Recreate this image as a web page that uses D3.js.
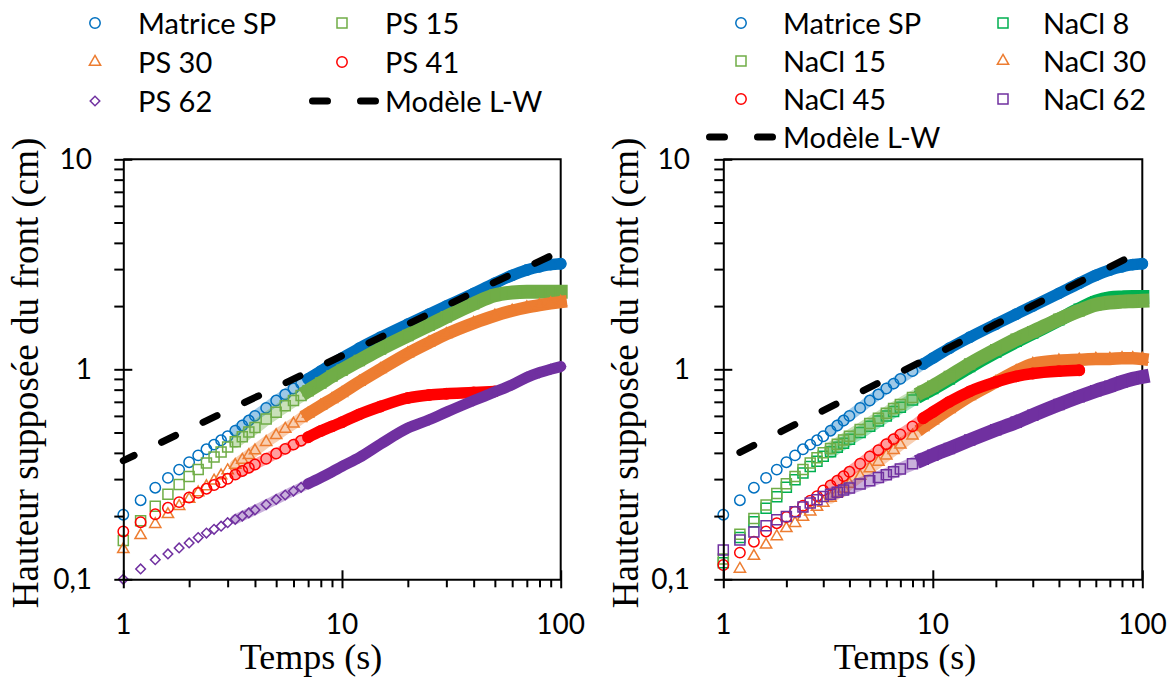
<!DOCTYPE html>
<html><head><meta charset="utf-8">
<script src="https://cdn.jsdelivr.net/npm/d3@7"></script>
<style>
body{margin:0;background:#fff;}
svg{display:block;}
</style></head><body>
<svg id="chart" width="1171" height="680"></svg>
<script>
// ---- Data ----
const times = [1,1.2,1.4,1.6,1.8,2,2.2,2.4,2.6,2.8,3,3.25,3.5,3.75,4,4.5,5,5.5,6,6.5,7,8,9,10,12,15,20,25,30,40,50,60,70,80,90,100];

// Matrice SP (same in both panels)
const matriceSP = [0.203,0.238,0.273,0.304,0.333,0.361,0.389,0.416,0.438,0.459,0.48,0.51,0.54,0.57,0.60,0.655,0.71,0.76,0.81,0.855,0.90,0.98,1.06,1.13,1.26,1.42,1.64,1.83,2.0,2.3,2.57,2.8,2.97,3.08,3.15,3.18];

// Left panel
const ps15 = [0.153,0.19,0.223,0.254,0.283,0.309,0.333,0.358,0.382,0.404,0.427,0.452,0.477,0.503,0.528,0.58,0.625,0.67,0.71,0.75,0.79,0.86,0.93,0.99,1.1,1.25,1.45,1.62,1.78,2.05,2.25,2.32,2.34,2.34,2.34,2.34];
const ps30 = [0.139,0.162,0.183,0.204,0.223,0.241,0.259,0.277,0.295,0.312,0.33,0.35,0.37,0.39,0.41,0.45,0.485,0.52,0.55,0.585,0.615,0.67,0.72,0.77,0.87,1.0,1.19,1.34,1.47,1.66,1.8,1.9,1.97,2.02,2.06,2.09];
const ps41 = [0.169,0.187,0.204,0.219,0.233,0.245,0.258,0.27,0.281,0.29,0.301,0.315,0.328,0.34,0.352,0.375,0.397,0.418,0.438,0.457,0.475,0.508,0.535,0.56,0.61,0.665,0.73,0.755,0.765,0.775,0.785,null,null,null,null,null];
const ps62 = [0.1,0.112,0.124,0.132,0.141,0.149,0.158,0.166,0.173,0.179,0.186,0.193,0.2,0.207,0.214,0.227,0.24,0.252,0.263,0.274,0.285,0.305,0.325,0.345,0.38,0.44,0.525,0.575,0.625,0.71,0.78,0.845,0.915,0.965,1.0,1.03];

// Right panel
const nacl8  = [0.12,0.158,0.188,0.218,0.247,0.274,0.298,0.321,0.344,0.365,0.385,0.405,0.425,0.445,0.465,0.5,0.535,0.567,0.6,0.63,0.66,0.715,0.765,0.81,0.9,1.03,1.21,1.36,1.49,1.72,1.93,2.1,2.18,2.2,2.21,2.21];
const nacl15 = [0.125,0.164,0.195,0.226,0.256,0.285,0.309,0.333,0.358,0.379,0.4,0.42,0.44,0.46,0.48,0.517,0.552,0.585,0.618,0.65,0.68,0.735,0.785,0.83,0.925,1.06,1.24,1.39,1.51,1.73,1.9,2.03,2.08,2.1,2.11,2.12];
const nacl30 = [null,0.112,0.129,0.146,0.16,0.175,0.185,0.198,0.21,0.221,0.231,0.244,0.257,0.27,0.284,0.31,0.337,0.362,0.388,0.412,0.437,0.483,0.53,0.57,0.645,0.745,0.87,0.98,1.06,1.1,1.11,1.12,1.12,1.13,1.13,1.12];
const nacl45 = [0.117,0.134,0.151,0.169,0.185,0.198,0.21,0.224,0.237,0.249,0.265,0.28,0.295,0.31,0.325,0.355,0.385,0.412,0.44,0.465,0.49,0.535,0.585,0.625,0.7,0.785,0.87,0.925,0.955,0.98,0.99,null,null,null,null,null];
const nacl62 = [0.138,0.154,0.168,0.18,0.192,0.199,0.21,0.221,0.231,0.239,0.248,0.254,0.26,0.266,0.272,0.284,0.295,0.305,0.315,0.325,0.335,0.355,0.373,0.39,0.42,0.46,0.515,0.56,0.605,0.68,0.74,0.79,0.83,0.87,0.9,0.92];

// Modele L-W
const lwLeftT  = [1,2,5,10,20,50,100];
const lwLeftV  = [0.367,0.52,0.82,1.16,1.64,2.6,3.65];
const lwRightT = [1.2,2,5,10,20,50,100];
const lwRightV = [0.402,0.52,0.82,1.16,1.64,2.6,3.67];

const xTickVals = [1,10,100];
const xTickLabels = ["1","10","100"];
const yTickVals = [0.1,1,10];
const yTickLabels = ["0,1","1","10"];

const leftNames  = ["Matrice SP","PS 15","PS 30","PS 41","PS 62"];
const rightNames = ["Matrice SP","NaCl 8","NaCl 15","NaCl 30","NaCl 45","NaCl 62"];
const lwName = "Modèle L-W";
const xTitle = "Temps (s)";
const yTitle = "Hauteur supposée du front (cm)";

// ---- Styles ----
const C = {blue:"#0070C0", lgreen:"#70AD47", dgreen:"#00B050", orange:"#ED7D31", red:"#FF0000", purple:"#7030A0"};
const SH = {
  circle:  {sym:d3.symbolCircle,  size:85, rot:false, bandW:11.5, cap:"round"},
  square:  {sym:d3.symbolSquare,  size:100, rot:false, bandW:14, cap:"square"},
  triangle:{sym:d3.symbolTriangle,size:55, rot:false, bandW:12.5, cap:"square"},
  diamond: {sym:d3.symbolSquare,  size:46, rot:true,  bandW:11, cap:"round"}
};

const leftSeries = [
  {name:leftNames[0], values:matriceSP, color:C.blue,   shape:"circle"},
  {name:leftNames[1], values:ps15,      color:C.lgreen, shape:"square"},
  {name:leftNames[2], values:ps30,      color:C.orange, shape:"triangle"},
  {name:leftNames[3], values:ps41,      color:C.red,    shape:"circle"},
  {name:leftNames[4], values:ps62,      color:C.purple, shape:"diamond"}
];
const rightSeries = [
  {name:rightNames[0], values:matriceSP, color:C.blue,   shape:"circle"},
  {name:rightNames[1], values:nacl8,     color:C.dgreen, shape:"square"},
  {name:rightNames[2], values:nacl15,    color:C.lgreen, shape:"square"},
  {name:rightNames[3], values:nacl30,    color:C.orange, shape:"triangle"},
  {name:rightNames[4], values:nacl45,    color:C.red,    shape:"circle"},
  {name:rightNames[5], values:nacl62,    color:C.purple, shape:"square"}
];

const yTop = 159.3, yBot = 579.3;
const tickFont = "Lato, 'Open Sans', sans-serif";
const titleFont = "'Liberation Serif', 'Times New Roman', serif";

const panels = [
  {x0:123.3, x1:560.7, series:leftSeries, lwT:lwLeftT, lwV:lwLeftV, lwOffset:3.5, haloStart:3.25, bandStart:7,
   yTitleX:38, xTitleX:311, yLabelRight:92,
   legend:{mx:[95,342], tx:[138,385], ry:[23,62,101],
     items:[[0,0,0],[1,0,1],[2,1,0],[3,1,1],[4,2,0]], lw:[2,1], lwX:[309,379]}},
  {x0:723.3, x1:1142.3, series:rightSeries, lwT:lwRightT, lwV:lwRightV, lwOffset:0, haloStart:3.25, bandStart:9,
   yTitleX:638, xTitleX:905, yLabelRight:690,
   legend:{mx:[741,1003], tx:[783,1043], ry:[23,61,99,137],
     items:[[0,0,0],[1,0,1],[2,1,0],[3,1,1],[4,2,0],[5,2,1]], lw:[3,0], lwX:[706,776]}}
];

const svg = d3.select("#chart");

function symPath(shape){ return d3.symbol().type(SH[shape].sym).size(SH[shape].size)(); }

panels.forEach(p => {
  const x = d3.scaleLog().domain([1,100]).range([p.x0, p.x1]);
  const y = d3.scaleLog().domain([0.1,10]).range([yBot, yTop]);
  const g = svg.append("g");
  const line = d3.line().x(d=>x(d.t)).y(d=>y(d.v)).curve(d3.curveMonotoneX);

  // frame (top + right), behind the data
  g.append("path")
    .attr("d", `M${x(1)},${y(10)}H${x(100)}V${y(0.1)}`)
    .attr("fill","none").attr("stroke","#000").attr("stroke-width",2);

  // series
  p.series.forEach(s => {
    const sh = SH[s.shape];
    const pts = times.map((t,i)=>({t:t, v:s.values[i]})).filter(d=>d.v!=null);
    // light tint where hollow markers crowd together
    const halo = pts.filter(d=>d.t>=p.haloStart && d.t<=p.bandStart);
    g.append("path").datum(halo).attr("d", line)
      .attr("fill","none").attr("stroke",s.color).attr("stroke-opacity",0.38)
      .attr("stroke-width",sh.bandW-1).attr("stroke-linecap","round").attr("stroke-linejoin","round");
    // solid band where markers fully overlap
    const band = pts.filter(d=>d.t>=p.bandStart);
    g.append("path").datum(band).attr("d", line)
      .attr("fill","none").attr("stroke",s.color).attr("stroke-width",sh.bandW)
      .attr("stroke-linecap",sh.cap).attr("stroke-linejoin","round");
    g.selectAll(null).data(pts).join("path")
      .attr("transform", d=>`translate(${x(d.t)},${y(d.v)})${sh.rot?" rotate(45)":""}`)
      .attr("d", symPath(s.shape))
      .attr("fill","none").attr("stroke",s.color).attr("stroke-width",1.5);
  });

  // Modele L-W
  const lwPts = p.lwT.map((t,i)=>({t:t, v:p.lwV[i]}));
  g.append("path").datum(lwPts)
    .attr("d", d3.line().x(d=>x(d.t)).y(d=>y(d.v)))
    .attr("fill","none").attr("stroke","#000").attr("stroke-width",7)
    .attr("stroke-linecap","round").attr("stroke-dasharray","15.5,30.5")
    .attr("stroke-dashoffset",p.lwOffset);

  // axes (on top of data)
  const minorX = [];
  [1,10].forEach(b=>{for(let k=2;k<=9;k++) minorX.push(b*k);});
  const minorY = [];
  [0.1,1].forEach(b=>{for(let k=2;k<=9;k++) minorY.push(+(b*k).toFixed(2));});

  g.append("g").attr("transform",`translate(0,${yBot})`)
    .call(d3.axisBottom(x).tickValues(minorX).tickSizeInner(8).tickSizeOuter(0).tickFormat(""))
    .call(a=>{a.selectAll("path,line").attr("stroke","#000").attr("stroke-width",2);});
  g.append("g").attr("transform",`translate(0,${yBot-9})`)
    .call(d3.axisBottom(x).tickValues(xTickVals).tickSizeInner(18).tickSizeOuter(0).tickFormat(""))
    .call(a=>{a.select(".domain").remove(); a.selectAll("line").attr("stroke","#000").attr("stroke-width",2);});
  g.append("g").attr("transform",`translate(${p.x0},0)`)
    .call(d3.axisLeft(y).tickValues(minorY).tickSizeInner(9).tickSizeOuter(0).tickFormat(""))
    .call(a=>{a.selectAll("path,line").attr("stroke","#000").attr("stroke-width",2);});
  g.append("g").attr("transform",`translate(${p.x0+9},0)`)
    .call(d3.axisLeft(y).tickValues(yTickVals).tickSizeInner(18).tickSizeOuter(0).tickFormat(""))
    .call(a=>{a.select(".domain").remove(); a.selectAll("line").attr("stroke","#000").attr("stroke-width",2);});

  // tick labels
  g.selectAll(null).data(xTickVals).join("text")
    .attr("x", d=>x(d)).attr("y", 634).attr("text-anchor","middle")
    .style("font-family",tickFont).style("font-size","28px").attr("fill","#000")
    .text((d,i)=>xTickLabels[i]);
  g.selectAll(null).data(yTickVals).join("text")
    .attr("x", p.yLabelRight).attr("y", d=>y(d)+10).attr("text-anchor","end")
    .style("font-family",tickFont).style("font-size","28px").attr("fill","#000")
    .text((d,i)=>yTickLabels[i]);

  // titles
  g.append("text").attr("x",p.xTitleX).attr("y",669).attr("text-anchor","middle")
    .style("font-family",titleFont).style("font-size","36px").attr("fill","#000").text(xTitle);
  g.append("text").attr("transform",`translate(${p.yTitleX},373) rotate(-90)`).attr("text-anchor","middle")
    .style("font-family",titleFont).style("font-size","37px").attr("fill","#000").text(yTitle);

  // legend
  const L = p.legend;
  L.items.forEach(([si,row,col])=>{
    const s = p.series[si], sh = SH[s.shape];
    g.append("path")
      .attr("transform",`translate(${L.mx[col]},${L.ry[row]})${sh.rot?" rotate(45)":""}`)
      .attr("d", symPath(s.shape)).attr("fill","none").attr("stroke",s.color).attr("stroke-width",1.5);
    g.append("text").attr("x",L.tx[col]).attr("y",L.ry[row]+10.5)
      .style("font-family",tickFont).style("font-size","29px").attr("fill","#000").text(s.name);
  });
  const [lr,lc] = L.lw;
  g.append("line").attr("x1",L.lwX[0]+3.5).attr("x2",L.lwX[1]-3.5)
    .attr("y1",L.ry[lr]).attr("y2",L.ry[lr])
    .attr("stroke","#000").attr("stroke-width",7).attr("stroke-linecap","round")
    .attr("stroke-dasharray","15,33");
  g.append("text").attr("x",L.tx[lc]).attr("y",L.ry[lr]+10.5)
    .style("font-family",tickFont).style("font-size","29px").attr("fill","#000").text(lwName);
});
</script>
</body></html>
